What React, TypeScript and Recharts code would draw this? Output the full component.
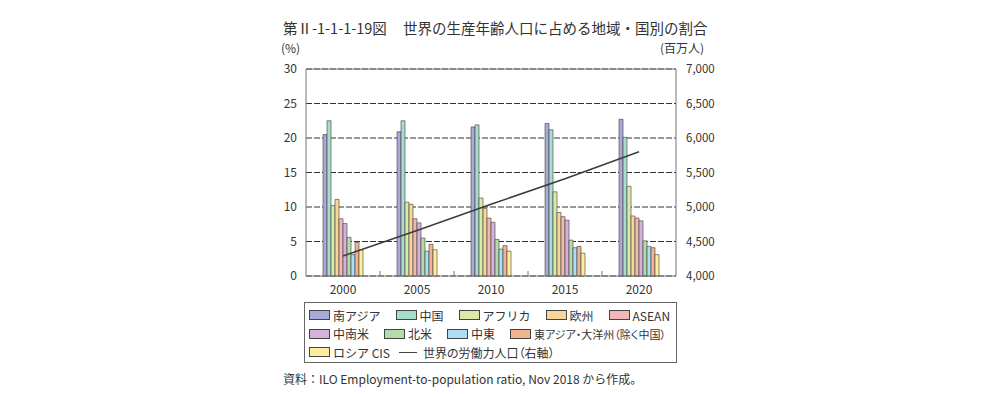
import { Bar, CartesianGrid, ComposedChart, Line, ReferenceLine, XAxis, YAxis } from "recharts";

const YEARS = ["2000", "2005", "2010", "2015", "2020"];

// shares of world working-age population (%)
const SOUTH_ASIA = [20.5, 20.9, 21.6, 22.1, 22.7];
const CHINA = [22.5, 22.5, 21.9, 21.2, 20.1];
const AFRICA = [10.2, 10.7, 11.3, 12.2, 13.0];
const EUROPE = [11.1, 10.4, 9.8, 9.2, 8.7];
const ASEAN = [8.3, 8.3, 8.4, 8.6, 8.4];
const LATAM = [7.6, 7.7, 7.8, 8.1, 8.0];
const N_AMERICA = [5.6, 5.5, 5.3, 5.2, 5.1];
const MIDEAST = [3.1, 3.6, 3.9, 4.1, 4.3];
const EAST_ASIA = [4.9, 4.6, 4.4, 4.3, 4.1];
const RUSSIA_CIS = [3.8, 3.8, 3.6, 3.3, 3.1];

// world labour force (million, right axis)
const LABOR = [4290, 4660, 5040, 5410, 5800];

const LEFT_TICKS = [0, 5, 10, 15, 20, 25, 30];
const RIGHT_TICKS = [4000, 4500, 5000, 5500, 6000, 6500, 7000];

const SERIES = [
  { key: "southAsia", name: "南アジア", color: "#a9a9da", values: SOUTH_ASIA },
  { key: "china", name: "中国", color: "#a8dccc", values: CHINA },
  { key: "africa", name: "アフリカ", color: "#dce9a8", values: AFRICA },
  { key: "europe", name: "欧州", color: "#f8d598", values: EUROPE },
  { key: "asean", name: "ASEAN", color: "#f2b8b8", values: ASEAN },
  { key: "latam", name: "中南米", color: "#d3b3dc", values: LATAM },
  { key: "nAmerica", name: "北米", color: "#b4dba8", values: N_AMERICA },
  { key: "mideast", name: "中東", color: "#acdcf6", values: MIDEAST },
  { key: "eastAsia", name: "東アジア・大洋州（除く中国）", color: "#f2b48e", values: EAST_ASIA },
  { key: "russia", name: "ロシア CIS", color: "#fcee9f", values: RUSSIA_CIS },
];

const LEGEND_ROWS = [
  { gap: 15, keys: ["southAsia", "china", "africa", "europe", "asean"] },
  { gap: 15, keys: ["latam", "nAmerica", "mideast", "eastAsia"] },
  { gap: 9, keys: ["russia", "labor"] },
];

const FONT = "'Noto Sans CJK JP', 'Noto Sans', sans-serif";
const TEXT = "#333";
const AXIS = "#777";

const CHART_W = 993;
const CHART_H = 300;
const MARGIN = { top: 69, right: 267, bottom: 4, left: 266 };
const PLOT_LEFT = 306;
const PLOT_RIGHT = 676;
const PLOT_BOTTOM = CHART_H - MARGIN.bottom - 20;
const BAND = (PLOT_RIGHT - PLOT_LEFT) / YEARS.length;

const data = YEARS.map((year, i) => {
  const row: Record<string, string | number> = { year, labor: LABOR[i] };
  SERIES.forEach((s) => {
    row[s.key] = s.values[i];
  });
  return row;
});

function YearTick(props: any) {
  const { x, y, payload, index } = props;
  return (
    <g>
      <text x={x} y={y} dy="0.71em" textAnchor="middle" fontSize={12} fill={TEXT} fontFamily={FONT}>
        {payload.value}
      </text>
      {index < YEARS.length - 1 && (
        <line x1={x + BAND / 2} x2={x + BAND / 2} y1={PLOT_BOTTOM} y2={PLOT_BOTTOM - 5} stroke={AXIS} />
      )}
    </g>
  );
}

function LegendBox() {
  const byKey = Object.fromEntries(SERIES.map((s) => [s.key, s]));
  return (
    <div
      style={{
        position: "absolute",
        left: 304,
        top: 302,
        width: 373,
        height: 61,
        border: "1px solid #666",
        fontFamily: FONT,
        fontSize: 12,
        color: TEXT,
        padding: "3px 0 0 4px",
        boxSizing: "border-box",
      }}
    >
      {LEGEND_ROWS.map((row, r) => (
        <div key={r} style={{ display: "flex", alignItems: "center", height: 18.5, whiteSpace: "nowrap" }}>
          {row.keys.map((key) => {
            if (key === "labor") {
              return (
                <span key={key} style={{ display: "flex", alignItems: "center", marginRight: row.gap }}>
                  <span style={{ width: 18, height: 0, borderTop: "1.5px solid #444", marginRight: 6 }} />
                  <span style={{ fontFeatureSettings: '"palt"' }}>世界の労働力人口（右軸）</span>
                </span>
              );
            }
            const s = byKey[key];
            const long = key === "eastAsia";
            return (
              <span key={key} style={{ display: "flex", alignItems: "center", marginRight: row.gap }}>
                <span
                  style={{
                    width: 21,
                    height: 10,
                    background: s.color,
                    border: "1px solid #444",
                    boxSizing: "border-box",
                    marginRight: 3,
                  }}
                />
                <span style={long ? { fontSize: 11, fontFeatureSettings: '"palt"' } : undefined}>{s.name}</span>
              </span>
            );
          })}
        </div>
      ))}
    </div>
  );
}

export default function App() {
  return (
    <div
      style={{
        position: "absolute",
        left: 0,
        top: 0,
        width: 993,
        height: 394,
        background: "#fff",
        fontFamily: FONT,
        color: TEXT,
      }}
    >
      <div style={{ position: "absolute", left: 283, top: 17, fontSize: 14.5, whiteSpace: "nowrap" }}>
        第Ⅱ-1-1-1-19図
      </div>
      <div style={{ position: "absolute", left: 403, top: 17, fontSize: 14.5, whiteSpace: "nowrap" }}>
        世界の生産年齢人口に占める地域・国別の割合
      </div>
      <div style={{ position: "absolute", left: 281, top: 39, fontSize: 12 }}>(%)</div>
      <div style={{ position: "absolute", left: 660, top: 39, fontSize: 12 }}>(百万人)</div>

      <ComposedChart
        width={CHART_W}
        height={CHART_H}
        data={data}
        margin={MARGIN}
        barCategoryGap="23%"
        barGap={0}
        style={{ position: "absolute", left: 0, top: 0 }}
      >
        <CartesianGrid vertical={false} stroke="#333" strokeDasharray="6 2" yAxisId="left" />
        <XAxis
          dataKey="year"
          height={20}
          tickLine={false}
          tickSize={6}
          tickMargin={3}
          axisLine={{ stroke: AXIS }}
          tick={(p: any) => <YearTick {...p} />}
        />
        <YAxis
          yAxisId="left"
          domain={[0, 30]}
          ticks={LEFT_TICKS}
          width={40}
          tickLine={false}
          tickMargin={3}
          axisLine={{ stroke: AXIS }}
          tick={{ fontSize: 12, fill: TEXT, fontFamily: FONT }}
        />
        <YAxis
          yAxisId="right"
          orientation="right"
          domain={[4000, 7000]}
          ticks={RIGHT_TICKS}
          width={50}
          tickLine={false}
          tickMargin={4}
          axisLine={{ stroke: AXIS }}
          tickFormatter={(v: number) => v.toLocaleString("en-US")}
          tick={{ fontSize: 11.5, fill: TEXT, fontFamily: FONT }}
        />
        <ReferenceLine yAxisId="left" y={30} stroke={AXIS} />
        {SERIES.map((s) => (
          <Bar
            key={s.key}
            dataKey={s.key}
            yAxisId="left"
            fill={s.color}
            stroke="#3a3a3a"
            strokeWidth={0.6}
            isAnimationActive={false}
          />
        ))}
        <Line
          dataKey="labor"
          yAxisId="right"
          type="linear"
          stroke="#3c3c3c"
          strokeWidth={1.5}
          dot={false}
          activeDot={false}
          isAnimationActive={false}
        />
      </ComposedChart>

      <LegendBox />

      <div style={{ position: "absolute", left: 283, top: 370, fontSize: 12 }}>
        資料：ILO Employment-to-population ratio, Nov 2018 から作成。
      </div>
    </div>
  );
}
